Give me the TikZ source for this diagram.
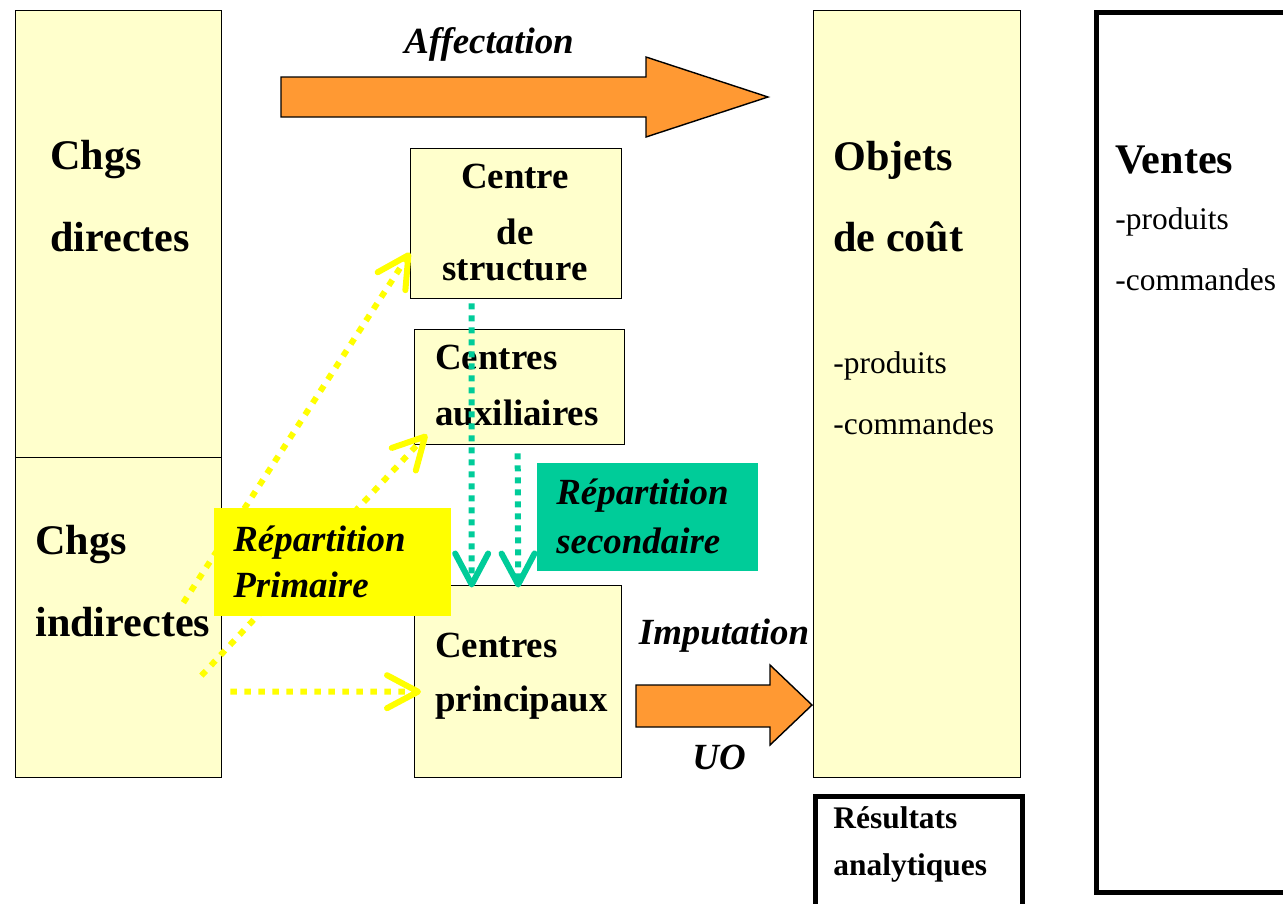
\documentclass[tikz,border=0pt]{standalone}
\usepackage{fontspec}
\setmainfont{Liberation Serif}
\usepackage{xcolor}
\usetikzlibrary{arrows.meta}
\newcommand{\BigLbl}{\fontsize{24}{28}\selectfont\bfseries}
\newcommand{\MidLbl}{\fontsize{21}{25}\selectfont\bfseries}
\newcommand{\ItLbl}{\fontsize{21}{25}\selectfont\bfseries\itshape}
\newcommand{\SmallLbl}{\fontsize{17.9}{21}\selectfont}
\definecolor{colorBox}{HTML}{FFFFCC}
\definecolor{colorArrow}{HTML}{FF9933}
\definecolor{colorPrim}{HTML}{FFFF00}
\definecolor{colorSec}{HTML}{00CC99}

\begin{document}
\begin{tikzpicture}[x=0.02cm,y=-0.02cm,box/.style={draw, fill=colorBox, line width=0.8pt, anchor=north west, inner sep=0pt},thickbox/.style={draw, line width=2.8pt, anchor=north west, inner sep=0pt},big/.style={anchor=west, inner sep=0pt, font=\BigLbl},mid/.style={anchor=west, inner sep=0pt, font=\MidLbl},itl/.style={anchor=west, inner sep=0pt, font=\ItLbl},small/.style={anchor=west, inner sep=0pt, font=\SmallLbl},blockarrow/.style={draw, fill=colorArrow, line width=0.8pt, line join=miter},prim/.style={colorPrim, line width=0.12cm, dash pattern=on 0.13cm off 0.15cm, -{Straight Barb[length=0.62cm, width=0.66cm, round]}},sec/.style={colorSec, line width=0.12cm, dash pattern=on 0.12cm off 0.12cm, -{Straight Barb[length=0.62cm, width=0.66cm, round]}},]
    \useasboundingbox (0,0) rectangle (1283,903);
    % boxes
    \node [box, minimum width=4.12cm, minimum height=8.94cm] (Dir) at (15,10) {};
    \node [box, minimum width=4.12cm, minimum height=6.4cm] (Ind) at (15,457) {};
    \node [box, minimum width=4.22cm, minimum height=3.0cm] (Struct) at (410,148) {};
    \node [box, minimum width=4.2cm, minimum height=2.3cm] (Aux) at (414,329) {};
    \node [box, minimum width=4.14cm, minimum height=3.84cm] (Princ) at (414,585) {};
    \node [box, minimum width=4.14cm, minimum height=15.34cm] (Obj) at (813,10) {};
    \node [thickbox, minimum width=4.4cm, minimum height=17.6cm] (Ventes) at (1094,10) {};
    \node [thickbox, minimum width=4.14cm, minimum height=2.6cm] (Res) at (813,794) {};
    % block arrows
    \draw [blockarrow] (281,77) -- (646,77) -- (646,57) -- (768,97) -- (646,137) -- (646,117) -- (281,117) -- cycle;
    \draw [blockarrow] (636,685) -- (770,685) -- (770,665) -- (812,705) -- (770,745) -- (770,727) -- (636,727) -- cycle;
    \node [itl, anchor=center] (tAff) at (489,44) {Affectation};
    \node [itl, anchor=center] (tImp) at (724,636) {Imputation};
    \node [itl, anchor=center] (tUO) at (719,757) {UO};
    % texts in boxes
    \node [big] (tDir1) at (50,160) {Chgs};
    \node [big] (tDir2) at (50,237) {directes};
    \node [big] (tInd1) at (35,545) {Chgs};
    \node [big] (tInd2) at (35,622) {indirectes};
    \node [mid, anchor=center] (tStr1) at (515,176) {Centre};
    \node [mid, anchor=center] (tStr2) at (515,232) {de};
    \node [mid, anchor=center] (tStr3) at (515,270) {structure};
    \node [mid] (tAux1) at (435,357) {Centres};
    \node [mid] (tAux2) at (435,413) {auxiliaires};
    \node [mid] (tPri1) at (435,645) {Centres};
    \node [mid] (tPri2) at (435,703) {principaux};
    \node [big] (tObj1) at (833,160) {Objets};
    \node [big] (tObj2) at (833,237) {de coût};
    \node [small] (tObj3) at (833,366) {-produits};
    \node [small] (tObj4) at (833,424) {-commandes};
    \node [big] (tVen1) at (1115,160) {Ventes};
    \node [small] (tVen2) at (1115,222) {-produits};
    \node [small] (tVen3) at (1115,280) {-commandes};
    \node [small, font=\SmallLbl\bfseries] (tRes1) at (833,818) {Résultats};
    \node [small, font=\SmallLbl\bfseries] (tRes2) at (833,868) {analytiques};
    % primary allocation
    \path [prim] ([xshift=-0.78cm,yshift=0.3cm]Ind.east) edge ([yshift=-0.58cm]Struct.west);
    \path [prim] ([xshift=-0.42cm,yshift=-1.16cm]Ind.east) edge ([xshift=0.26cm,yshift=0.22cm]Aux.south west);
    \path [prim] ([xshift=0.16cm,yshift=-1.48cm]Ind.east) edge ([xshift=0.14cm,yshift=-0.2cm]Princ.west);
    \node [fill=colorPrim, anchor=north west, inner sep=0pt, minimum width=4.74cm, minimum height=2.16cm] (Prim) at (214,508) {};
    \node [itl] (tPrim1) at (233,543) {Répartition};
    \node [itl] (tPrim2) at (233,585) {Primaire};
    % secondary allocation
    \path [sec] ([xshift=-0.89cm,yshift=-0.08cm]Struct.south) edge ([xshift=-0.93cm,yshift=-0.05cm]Princ.north);
    \path [sec] ([xshift=-0.04cm,yshift=-0.16cm]Aux.south) edge ([yshift=-0.05cm]Princ.north);
    \node [fill=colorSec, anchor=north west, inner sep=0pt, minimum width=4.42cm, minimum height=2.16cm] (Sec) at (537,463) {};
    \node [itl] (tSec1) at (556,496) {Répartition};
    \node [itl] (tSec2) at (556,541) {secondaire};
\end{tikzpicture}
\end{document}
